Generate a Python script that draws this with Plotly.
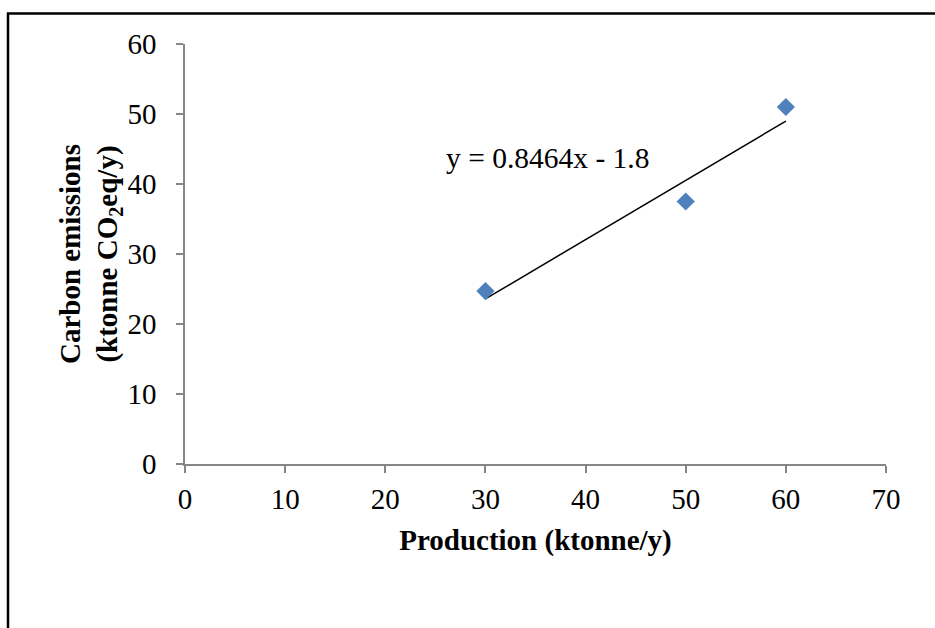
import plotly.graph_objects as go
import numpy as np

production = [30, 50, 60]
emissions = [24.7, 37.5, 51.0]
trend_slope = 0.8464
trend_intercept = -1.8
x_ticks = [0, 10, 20, 30, 40, 50, 60, 70]
y_ticks = [0, 10, 20, 30, 40, 50, 60]

FONT = "Liberation Serif, Times New Roman, serif"
AX = "#868686"

fit_x = np.array([min(production), max(production)], dtype=float)
fit_y = trend_slope * fit_x + trend_intercept

fig = go.Figure()
fig.add_trace(go.Scatter(x=fit_x, y=fit_y, mode="lines",
                         line=dict(color="black", width=1.5),
                         showlegend=False, hoverinfo="skip"))
fig.add_trace(go.Scatter(x=production, y=emissions, mode="markers",
                         marker=dict(symbol="diamond", size=14, color="#4F81BD"),
                         showlegend=False))

fig.add_annotation(x=36.2, y=43.7, xref="x", yref="y",
                   text=f"y = {trend_slope}x - {abs(trend_intercept)}",
                   showarrow=False, xanchor="center", yanchor="middle",
                   font=dict(family=FONT, size=29.5, color="black"))

# outer frame
fig.add_shape(type="rect", xref="paper", yref="paper",
              x0=(8 - 185) / 701, x1=(945 - 185) / 701,
              y0=(464 - 650) / 420, y1=(464 - 13.5) / 420,
              line=dict(color="black", width=2.5), fillcolor="rgba(0,0,0,0)")

fig.update_layout(
    width=935, height=628,
    margin=dict(l=185, r=49, t=44, b=164),
    paper_bgcolor="white", plot_bgcolor="white",
    font=dict(family=FONT, size=29, color="black"),
    xaxis=dict(range=[0, 70], tickvals=x_ticks, showgrid=False, zeroline=False,
               showline=True, linecolor=AX, linewidth=1.5,
               ticks="outside", tickcolor=AX, ticklen=7, tickwidth=1.5,
               ticklabelstandoff=1,
               tickfont=dict(family=FONT, size=29, color="black"),
               title=dict(text="<b>Production (ktonne/y)</b>", standoff=16,
                          font=dict(family=FONT, size=29, color="black"))),
    yaxis=dict(range=[0, 60], tickvals=y_ticks, showgrid=False, zeroline=False,
               showline=True, linecolor=AX, linewidth=1.5,
               ticks="outside", tickcolor=AX, ticklen=7, tickwidth=1.5,
               ticklabelstandoff=14,
               tickfont=dict(family=FONT, size=29, color="black"),
               title=dict(text="<b>Carbon emissions<br>(ktonne CO<sub>2</sub>eq/y)</b>",
                          standoff=0,
                          font=dict(family=FONT, size=29, color="black"))),
)

fig.write_html("out.html")
